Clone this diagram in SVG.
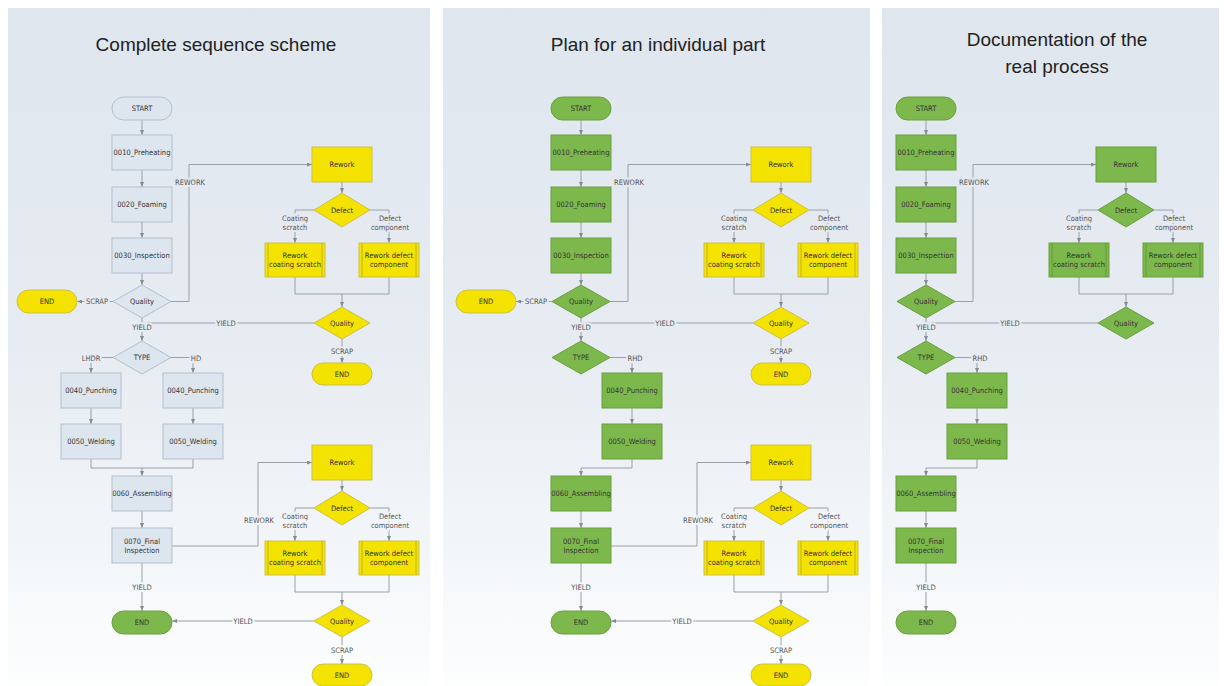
<svg xmlns="http://www.w3.org/2000/svg" width="1224" height="686" viewBox="0 0 1224 686">
<defs>
<linearGradient id="bg" gradientUnits="userSpaceOnUse" x1="0" y1="8" x2="0" y2="686">
<stop offset="0" stop-color="#dfe6ee"/>
<stop offset="0.5" stop-color="#e7ecf2"/>
<stop offset="0.8" stop-color="#f3f6f9"/>
<stop offset="1" stop-color="#fdfefe"/>
</linearGradient>
<marker id="ah" markerUnits="userSpaceOnUse" markerWidth="5" markerHeight="4" refX="5" refY="2" orient="auto">
<path d="M0,0 L5,2 L0,4 z" fill="#858b94"/>
</marker>
<style>
.pb{fill:url(#bg)}
.ln{fill:none;stroke:#9aa0a8;stroke-width:1}
.ar{marker-end:url(#ah)}
.nl{fill:#dde6ef;stroke:#b3bfcc;stroke-width:1}
.ny{fill:#f4e200;stroke:#cdc147;stroke-width:1}
.ng{fill:#7db84d;stroke:#6aa03f;stroke-width:1}
.dl{stroke:#b8ab2a;stroke-width:0.8}
.dg{stroke:#5f9437;stroke-width:0.8}
.t{font-family:"Liberation Sans Narrow","DejaVu Sans Condensed","Liberation Sans",sans-serif;font-size:7.5px;fill:#333;text-anchor:middle;dominant-baseline:central}
.lb{font-family:"Liberation Sans Narrow","DejaVu Sans Condensed","Liberation Sans",sans-serif;font-size:7.5px;fill:#555;text-anchor:middle;dominant-baseline:central;stroke:url(#bg);stroke-width:4;paint-order:stroke}
.title{font-family:"Liberation Sans",Arial,sans-serif;font-size:19px;fill:#222;text-anchor:middle}
</style>
</defs>

<!-- ================= PANEL 1 ================= -->
<g id="panel1">
<rect class="pb" x="8" y="8" width="422" height="678"/>
<text class="title" x="216" y="51">Complete sequence scheme</text>
<g id="p1-connectors">
<path class="ln ar" d="M142,120 V135"/>
<path class="ln ar" d="M142,170 V187"/>
<path class="ln ar" d="M142,222 V238"/>
<path class="ln ar" d="M142,273 V285"/>
<path class="ln ar" d="M113,301.5 H77"/>
<path class="ln ar" d="M171,301.5 H189 V164.5 H312"/>
<path class="ln ar" d="M142,318 V341"/>
<path class="ln" d="M314,323 H142"/>
<path class="ln ar" d="M113,357.5 H91 V373"/>
<path class="ln ar" d="M171,357.5 H193 V373"/>
<path class="ln ar" d="M91,408 V424"/>
<path class="ln ar" d="M193,408 V424"/>
<path class="ln" d="M91,459 V468 H193 V459"/>
<path class="ln ar" d="M142,468 V476"/>
<path class="ln ar" d="M142,511 V528"/>
<path class="ln ar" d="M142,563 V611"/>
<path class="ln ar" d="M172,546 H258 V462.5 H312"/>
<path class="ln ar" d="M342,182 V193"/>
<path class="ln ar" d="M314,210 H295 V243"/>
<path class="ln ar" d="M370,210 H389 V243"/>
<path class="ln" d="M295,277 V294 H389 V277"/>
<path class="ln ar" d="M342,294 V307"/>
<path class="ln ar" d="M342,339 V363"/>
<path class="ln ar" d="M342,480 V491"/>
<path class="ln ar" d="M314,508 H295 V541"/>
<path class="ln ar" d="M370,508 H389 V541"/>
<path class="ln" d="M295,575 V592 H389 V575"/>
<path class="ln ar" d="M342,592 V605"/>
<path class="ln ar" d="M314,621 H172"/>
<path class="ln ar" d="M342,637 V664"/>
<text class="lb" x="97" y="301.5">SCRAP</text>
<text class="lb" x="190" y="182">REWORK</text>
<text class="lb" x="142" y="327">YIELD</text>
<text class="lb" x="226" y="323">YIELD</text>
<text class="lb" x="91" y="358">LHDR</text>
<text class="lb" x="196" y="358">HD</text>
<text class="lb" x="142" y="587">YIELD</text>
<text class="lb" x="259" y="520">REWORK</text>
<text class="lb" x="295" y="218">Coating</text>
<text class="lb" x="295" y="227">scratch</text>
<text class="lb" x="390" y="218">Defect</text>
<text class="lb" x="390" y="227">component</text>
<text class="lb" x="342" y="351">SCRAP</text>
<text class="lb" x="295" y="516">Coating</text>
<text class="lb" x="295" y="525">scratch</text>
<text class="lb" x="390" y="516">Defect</text>
<text class="lb" x="390" y="525">component</text>
<text class="lb" x="243" y="621">YIELD</text>
<text class="lb" x="342" y="650">SCRAP</text>
</g>
<g id="p1-start"><rect class="nl" x="112" y="97" width="60" height="23" rx="11.5"/><text class="t" x="142" y="108.5">START</text></g>
<g id="p1-0010"><rect class="nl" x="112" y="135" width="60" height="35"/><text class="t" x="142" y="152.5">0010_Preheating</text></g>
<g id="p1-0020"><rect class="nl" x="112" y="187" width="60" height="35"/><text class="t" x="142" y="204.5">0020_Foaming</text></g>
<g id="p1-0030"><rect class="nl" x="112" y="238" width="60" height="35"/><text class="t" x="142" y="255.5">0030_Inspection</text></g>
<g id="p1-quality"><polygon class="nl" points="142,285 171,301.5 142,318 113,301.5"/><text class="t" x="142" y="301.5">Quality</text></g>
<g id="p1-end-scrap"><rect class="ny" x="17" y="290" width="60" height="23" rx="11.5"/><text class="t" x="47" y="301.5">END</text></g>
<g id="p1-type"><polygon class="nl" points="142,341 171,357.5 142,374 113,357.5"/><text class="t" x="142" y="357.5">TYPE</text></g>
<g id="p1-0040l"><rect class="nl" x="61" y="373" width="60" height="35"/><text class="t" x="91" y="390.5">0040_Punching</text></g>
<g id="p1-0040r"><rect class="nl" x="163" y="373" width="60" height="35"/><text class="t" x="193" y="390.5">0040_Punching</text></g>
<g id="p1-0050l"><rect class="nl" x="61" y="424" width="60" height="35"/><text class="t" x="91" y="441.5">0050_Welding</text></g>
<g id="p1-0050r"><rect class="nl" x="163" y="424" width="60" height="35"/><text class="t" x="193" y="441.5">0050_Welding</text></g>
<g id="p1-0060"><rect class="nl" x="112" y="476" width="60" height="35"/><text class="t" x="142" y="493.5">0060_Assembling</text></g>
<g id="p1-0070"><rect class="nl" x="112" y="528" width="60" height="35"/><text class="t" x="142" y="541">0070_Final</text><text class="t" x="142" y="550">Inspection</text></g>
<g id="p1-end-yield"><rect class="ng" x="112" y="611" width="60" height="23" rx="11.5"/><text class="t" x="142" y="622.5">END</text></g>
<g id="p1-reworkA"><rect class="ny" x="312" y="147" width="60" height="35"/><text class="t" x="342" y="164.5">Rework</text></g>
<g id="p1-defectA"><polygon class="ny" points="342,193 370,210 342,227 314,210"/><text class="t" x="342" y="210">Defect</text></g>
<g id="p1-rcsA"><rect class="ny" x="265" y="243" width="60" height="34"/><path class="dl" d="M268,243 V277 M322,243 V277"/><text class="t" x="295" y="255.5">Rework</text><text class="t" x="295" y="264.5">coating scratch</text></g>
<g id="p1-rdcA"><rect class="ny" x="359" y="243" width="60" height="34"/><path class="dl" d="M362,243 V277 M416,243 V277"/><text class="t" x="389" y="255.5">Rework defect</text><text class="t" x="389" y="264.5">component</text></g>
<g id="p1-qualityA"><polygon class="ny" points="342,307 370,323 342,339 314,323"/><text class="t" x="342" y="323">Quality</text></g>
<g id="p1-endA"><rect class="ny" x="312" y="363" width="60" height="22" rx="11"/><text class="t" x="342" y="374">END</text></g>
<g id="p1-reworkB"><rect class="ny" x="312" y="445" width="60" height="35"/><text class="t" x="342" y="462.5">Rework</text></g>
<g id="p1-defectB"><polygon class="ny" points="342,491 370,508 342,525 314,508"/><text class="t" x="342" y="508">Defect</text></g>
<g id="p1-rcsB"><rect class="ny" x="265" y="541" width="60" height="34"/><path class="dl" d="M268,541 V575 M322,541 V575"/><text class="t" x="295" y="553.5">Rework</text><text class="t" x="295" y="562.5">coating scratch</text></g>
<g id="p1-rdcB"><rect class="ny" x="359" y="541" width="60" height="34"/><path class="dl" d="M362,541 V575 M416,541 V575"/><text class="t" x="389" y="553.5">Rework defect</text><text class="t" x="389" y="562.5">component</text></g>
<g id="p1-qualityB"><polygon class="ny" points="342,605 370,621 342,637 314,621"/><text class="t" x="342" y="621">Quality</text></g>
<g id="p1-endB"><rect class="ny" x="312" y="664" width="60" height="22" rx="11"/><text class="t" x="342" y="675">END</text></g>
</g>

<!-- ================= PANEL 2 ================= -->
<g id="panel2" transform="translate(439,0)">
<rect class="pb" x="4" y="8" width="427" height="678"/>
<text class="title" x="219" y="51">Plan for an individual part</text>
<g id="p2-connectors">
<path class="ln ar" d="M142,120 V135"/>
<path class="ln ar" d="M142,170 V187"/>
<path class="ln ar" d="M142,222 V238"/>
<path class="ln ar" d="M142,273 V285"/>
<path class="ln ar" d="M113,301.5 H77"/>
<path class="ln ar" d="M171,301.5 H189 V164.5 H312"/>
<path class="ln ar" d="M142,318 V341"/>
<path class="ln" d="M314,323 H142"/>
<path class="ln ar" d="M171,357.5 H193 V373"/>
<path class="ln ar" d="M193,408 V424"/>
<path class="ln" d="M193,459 V468 H142"/>
<path class="ln ar" d="M142,468 V476"/>
<path class="ln ar" d="M142,511 V528"/>
<path class="ln ar" d="M142,563 V611"/>
<path class="ln ar" d="M172,546 H258 V462.5 H312"/>
<path class="ln ar" d="M342,182 V193"/>
<path class="ln ar" d="M314,210 H295 V243"/>
<path class="ln ar" d="M370,210 H389 V243"/>
<path class="ln" d="M295,277 V294 H389 V277"/>
<path class="ln ar" d="M342,294 V307"/>
<path class="ln ar" d="M342,339 V363"/>
<path class="ln ar" d="M342,480 V491"/>
<path class="ln ar" d="M314,508 H295 V541"/>
<path class="ln ar" d="M370,508 H389 V541"/>
<path class="ln" d="M295,575 V592 H389 V575"/>
<path class="ln ar" d="M342,592 V605"/>
<path class="ln ar" d="M314,621 H172"/>
<path class="ln ar" d="M342,637 V664"/>
<text class="lb" x="97" y="301.5">SCRAP</text>
<text class="lb" x="190" y="182">REWORK</text>
<text class="lb" x="142" y="327">YIELD</text>
<text class="lb" x="226" y="323">YIELD</text>
<text class="lb" x="196" y="358">RHD</text>
<text class="lb" x="142" y="587">YIELD</text>
<text class="lb" x="259" y="520">REWORK</text>
<text class="lb" x="295" y="218">Coating</text>
<text class="lb" x="295" y="227">scratch</text>
<text class="lb" x="390" y="218">Defect</text>
<text class="lb" x="390" y="227">component</text>
<text class="lb" x="342" y="351">SCRAP</text>
<text class="lb" x="295" y="516">Coating</text>
<text class="lb" x="295" y="525">scratch</text>
<text class="lb" x="390" y="516">Defect</text>
<text class="lb" x="390" y="525">component</text>
<text class="lb" x="243" y="621">YIELD</text>
<text class="lb" x="342" y="650">SCRAP</text>
</g>
<g id="p2-start"><rect class="ng" x="112" y="97" width="60" height="23" rx="11.5"/><text class="t" x="142" y="108.5">START</text></g>
<g id="p2-0010"><rect class="ng" x="112" y="135" width="60" height="35"/><text class="t" x="142" y="152.5">0010_Preheating</text></g>
<g id="p2-0020"><rect class="ng" x="112" y="187" width="60" height="35"/><text class="t" x="142" y="204.5">0020_Foaming</text></g>
<g id="p2-0030"><rect class="ng" x="112" y="238" width="60" height="35"/><text class="t" x="142" y="255.5">0030_Inspection</text></g>
<g id="p2-quality"><polygon class="ng" points="142,285 171,301.5 142,318 113,301.5"/><text class="t" x="142" y="301.5">Quality</text></g>
<g id="p2-end-scrap"><rect class="ny" x="17" y="290" width="60" height="23" rx="11.5"/><text class="t" x="47" y="301.5">END</text></g>
<g id="p2-type"><polygon class="ng" points="142,341 171,357.5 142,374 113,357.5"/><text class="t" x="142" y="357.5">TYPE</text></g>
<g id="p2-0040"><rect class="ng" x="163" y="373" width="60" height="35"/><text class="t" x="193" y="390.5">0040_Punching</text></g>
<g id="p2-0050"><rect class="ng" x="163" y="424" width="60" height="35"/><text class="t" x="193" y="441.5">0050_Welding</text></g>
<g id="p2-0060"><rect class="ng" x="112" y="476" width="60" height="35"/><text class="t" x="142" y="493.5">0060_Assembling</text></g>
<g id="p2-0070"><rect class="ng" x="112" y="528" width="60" height="35"/><text class="t" x="142" y="541">0070_Final</text><text class="t" x="142" y="550">Inspection</text></g>
<g id="p2-end-yield"><rect class="ng" x="112" y="611" width="60" height="23" rx="11.5"/><text class="t" x="142" y="622.5">END</text></g>
<g id="p2-reworkA"><rect class="ny" x="312" y="147" width="60" height="35"/><text class="t" x="342" y="164.5">Rework</text></g>
<g id="p2-defectA"><polygon class="ny" points="342,193 370,210 342,227 314,210"/><text class="t" x="342" y="210">Defect</text></g>
<g id="p2-rcsA"><rect class="ny" x="265" y="243" width="60" height="34"/><path class="dl" d="M268,243 V277 M322,243 V277"/><text class="t" x="295" y="255.5">Rework</text><text class="t" x="295" y="264.5">coating scratch</text></g>
<g id="p2-rdcA"><rect class="ny" x="359" y="243" width="60" height="34"/><path class="dl" d="M362,243 V277 M416,243 V277"/><text class="t" x="389" y="255.5">Rework defect</text><text class="t" x="389" y="264.5">component</text></g>
<g id="p2-qualityA"><polygon class="ny" points="342,307 370,323 342,339 314,323"/><text class="t" x="342" y="323">Quality</text></g>
<g id="p2-endA"><rect class="ny" x="312" y="363" width="60" height="22" rx="11"/><text class="t" x="342" y="374">END</text></g>
<g id="p2-reworkB"><rect class="ny" x="312" y="445" width="60" height="35"/><text class="t" x="342" y="462.5">Rework</text></g>
<g id="p2-defectB"><polygon class="ny" points="342,491 370,508 342,525 314,508"/><text class="t" x="342" y="508">Defect</text></g>
<g id="p2-rcsB"><rect class="ny" x="265" y="541" width="60" height="34"/><path class="dl" d="M268,541 V575 M322,541 V575"/><text class="t" x="295" y="553.5">Rework</text><text class="t" x="295" y="562.5">coating scratch</text></g>
<g id="p2-rdcB"><rect class="ny" x="359" y="541" width="60" height="34"/><path class="dl" d="M362,541 V575 M416,541 V575"/><text class="t" x="389" y="553.5">Rework defect</text><text class="t" x="389" y="562.5">component</text></g>
<g id="p2-qualityB"><polygon class="ny" points="342,605 370,621 342,637 314,621"/><text class="t" x="342" y="621">Quality</text></g>
<g id="p2-endB"><rect class="ny" x="312" y="664" width="60" height="22" rx="11"/><text class="t" x="342" y="675">END</text></g>
</g>

<!-- ================= PANEL 3 ================= -->
<g id="panel3" transform="translate(784,0)">
<rect class="pb" x="98" y="8" width="337" height="678"/>
<text class="title" x="273" y="46">Documentation of the</text>
<text class="title" x="273" y="73">real process</text>
<g id="p3-connectors">
<path class="ln ar" d="M142,120 V135"/>
<path class="ln ar" d="M142,170 V187"/>
<path class="ln ar" d="M142,222 V238"/>
<path class="ln ar" d="M142,273 V285"/>
<path class="ln ar" d="M171,301.5 H189 V164.5 H312"/>
<path class="ln ar" d="M142,318 V341"/>
<path class="ln" d="M314,323 H142"/>
<path class="ln ar" d="M171,357.5 H193 V373"/>
<path class="ln ar" d="M193,408 V424"/>
<path class="ln" d="M193,459 V468 H142"/>
<path class="ln ar" d="M142,468 V476"/>
<path class="ln ar" d="M142,511 V528"/>
<path class="ln ar" d="M142,563 V611"/>
<path class="ln ar" d="M342,182 V193"/>
<path class="ln ar" d="M314,210 H295 V243"/>
<path class="ln ar" d="M370,210 H389 V243"/>
<path class="ln" d="M295,277 V294 H389 V277"/>
<path class="ln ar" d="M342,294 V307"/>
<text class="lb" x="190" y="182">REWORK</text>
<text class="lb" x="142" y="327">YIELD</text>
<text class="lb" x="226" y="323">YIELD</text>
<text class="lb" x="196" y="358">RHD</text>
<text class="lb" x="142" y="587">YIELD</text>
<text class="lb" x="295" y="218">Coating</text>
<text class="lb" x="295" y="227">scratch</text>
<text class="lb" x="390" y="218">Defect</text>
<text class="lb" x="390" y="227">component</text>
</g>
<g id="p3-start"><rect class="ng" x="112" y="97" width="60" height="23" rx="11.5"/><text class="t" x="142" y="108.5">START</text></g>
<g id="p3-0010"><rect class="ng" x="112" y="135" width="60" height="35"/><text class="t" x="142" y="152.5">0010_Preheating</text></g>
<g id="p3-0020"><rect class="ng" x="112" y="187" width="60" height="35"/><text class="t" x="142" y="204.5">0020_Foaming</text></g>
<g id="p3-0030"><rect class="ng" x="112" y="238" width="60" height="35"/><text class="t" x="142" y="255.5">0030_Inspection</text></g>
<g id="p3-quality"><polygon class="ng" points="142,285 171,301.5 142,318 113,301.5"/><text class="t" x="142" y="301.5">Quality</text></g>
<g id="p3-type"><polygon class="ng" points="142,341 171,357.5 142,374 113,357.5"/><text class="t" x="142" y="357.5">TYPE</text></g>
<g id="p3-0040"><rect class="ng" x="163" y="373" width="60" height="35"/><text class="t" x="193" y="390.5">0040_Punching</text></g>
<g id="p3-0050"><rect class="ng" x="163" y="424" width="60" height="35"/><text class="t" x="193" y="441.5">0050_Welding</text></g>
<g id="p3-0060"><rect class="ng" x="112" y="476" width="60" height="35"/><text class="t" x="142" y="493.5">0060_Assembling</text></g>
<g id="p3-0070"><rect class="ng" x="112" y="528" width="60" height="35"/><text class="t" x="142" y="541">0070_Final</text><text class="t" x="142" y="550">Inspection</text></g>
<g id="p3-end-yield"><rect class="ng" x="112" y="611" width="60" height="23" rx="11.5"/><text class="t" x="142" y="622.5">END</text></g>
<g id="p3-reworkA"><rect class="ng" x="312" y="147" width="60" height="35"/><text class="t" x="342" y="164.5">Rework</text></g>
<g id="p3-defectA"><polygon class="ng" points="342,193 370,210 342,227 314,210"/><text class="t" x="342" y="210">Defect</text></g>
<g id="p3-rcsA"><rect class="ng" x="265" y="243" width="60" height="34"/><path class="dg" d="M268,243 V277 M322,243 V277"/><text class="t" x="295" y="255.5">Rework</text><text class="t" x="295" y="264.5">coating scratch</text></g>
<g id="p3-rdcA"><rect class="ng" x="359" y="243" width="60" height="34"/><path class="dg" d="M362,243 V277 M416,243 V277"/><text class="t" x="389" y="255.5">Rework defect</text><text class="t" x="389" y="264.5">component</text></g>
<g id="p3-qualityA"><polygon class="ng" points="342,307 370,323 342,339 314,323"/><text class="t" x="342" y="323">Quality</text></g>
</g>
</svg>
